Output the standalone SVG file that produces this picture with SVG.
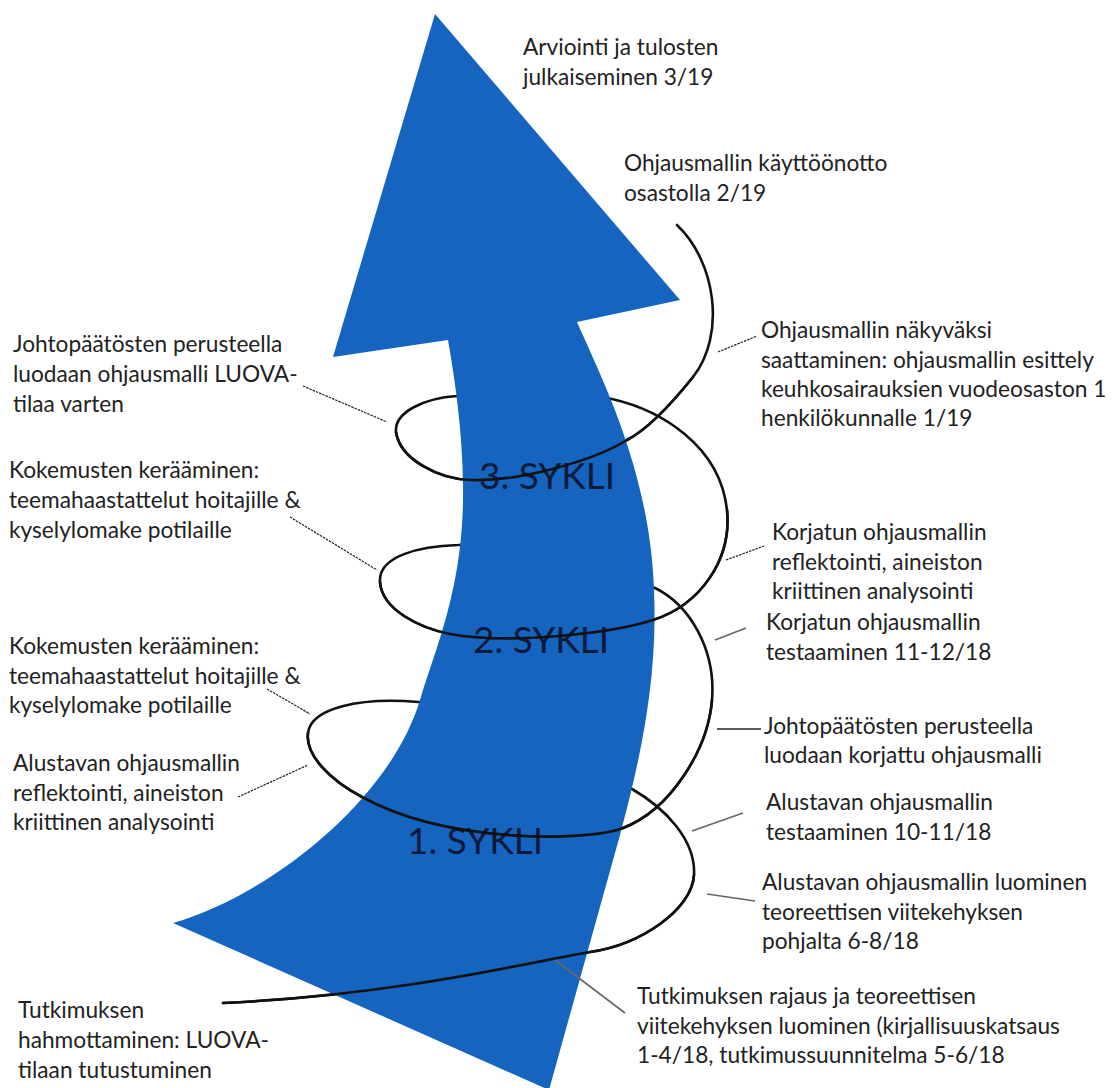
<svg xmlns="http://www.w3.org/2000/svg" width="1118" height="1088" viewBox="0 0 1118 1088">
<style>
.t{font-family:Lato,"Open Sans","Liberation Sans",sans-serif;font-size:22.7px;fill:#222}
.big{font-family:Lato,"Open Sans","Liberation Sans",sans-serif;font-size:37px;fill:#0b1a3a}
.sp{fill:none;stroke:#111;stroke-width:2.6;stroke-linecap:round}
.ld{fill:none;stroke:#222;stroke-width:1.2;stroke-dasharray:2.5 1}
.lg{fill:none;stroke:#666;stroke-width:1.6}
.lk{fill:none;stroke:#222;stroke-width:1.6}
</style>
<rect width="1118" height="1088" fill="#fff"/>
<g id="connectors">
<path id="spiral-back" class="sp" d="M 677 225 C 716 262 726 335 693 377 C 673 402 650 428 627 440 C 595 460 520 482 470 480 C 440 479 400 460 396 432 C 394 412 425 398 457 396 C 520 388 570 390 612 399 C 660 410 720 445 727 510 C 732 560 700 605 653 620 C 613 633 510 645 450 634 C 420 628 382 610 380 582 C 378 556 420 546 458 545 C 540 540 610 570 655 588 C 690 605 716 650 712 700 C 708 750 670 810 623 828 C 590 841 450 845 362 797 C 330 780 305 755 308 733 C 311 708 360 697 418 702 C 500 700 590 770 632 789 C 665 808 696 840 694 875 C 692 910 640 945 590 952 C 540 960 400 995 223 1003"/>
</g>
<g id="arrow">
<path d="M 435 14 L 680 300 L 577 322 C 600 375 650 470 654 590 C 658 680 640 760 620 835 L 549 1090 L 173 923 C 270 895 390 800 420 700 C 435 650 462 590 463 500 C 464 440 455 380 448 340 L 333 357 Z" fill="#1565c0"/>
<text class="big" x="479" y="489">3. SYKLI</text>
<text class="big" x="473" y="653">2. SYKLI</text>
<text class="big" x="407" y="854">1. SYKLI</text>
</g>
<g id="spiral-front">
<path class="sp" d="M 693 377 C 673 402 650 428 627 440 C 595 460 520 482 470 480 C 440 479 400 460 396 432"/>
<path class="sp" d="M 727 510 C 732 560 700 605 653 620 C 613 633 510 645 450 634 C 420 628 382 610 380 582"/>
<path class="sp" d="M 712 700 C 708 750 670 810 623 828 C 590 841 450 845 362 797 C 330 780 305 755 308 733"/>
<path class="sp" d="M 694 875 C 692 910 640 945 590 952 C 540 960 400 995 223 1003"/>
</g>
<g id="leaders">
<line class="ld" x1="303" y1="386" x2="387" y2="422"/>
<line class="ld" x1="290" y1="517" x2="377" y2="570"/>
<line class="ld" x1="267" y1="689" x2="310" y2="714"/>
<line class="ld" x1="238" y1="797" x2="308" y2="765"/>
<line class="ld" x1="718" y1="352" x2="757" y2="336"/>
<line class="ld" x1="726" y1="560" x2="764" y2="546"/>
<line class="lg" x1="715" y1="640" x2="746" y2="628"/>
<line class="lk" x1="717" y1="729" x2="761" y2="729"/>
<line class="lg" x1="692" y1="831" x2="743" y2="813"/>
<line class="lg" x1="707" y1="894" x2="755" y2="901"/>
<line class="lg" x1="555" y1="960" x2="625" y2="1013"/>
</g>
<g id="n-arviointi"><text class="t" x="523" y="55">Arviointi ja tulosten</text><text class="t" x="523" y="85">julkaiseminen 3/19</text></g>
<g id="n-kayttoonotto"><text class="t" x="624" y="171">Ohjausmallin käyttöönotto</text><text class="t" x="624" y="201">osastolla 2/19</text></g>
<g id="n-nakyvaksi"><text class="t" x="761" y="338">Ohjausmallin näkyväksi</text><text class="t" x="761" y="368">saattaminen: ohjausmallin esittely</text><text class="t" x="761" y="397">keuhkosairauksien vuodeosaston 1</text><text class="t" x="761" y="426">henkilökunnalle 1/19</text></g>
<g id="n-korjatun-refl"><text class="t" x="772" y="540">Korjatun ohjausmallin</text><text class="t" x="772" y="570">reflektointi, aineiston</text><text class="t" x="772" y="599">kriittinen analysointi</text></g>
<g id="n-korjatun-test"><text class="t" x="766" y="630">Korjatun ohjausmallin</text><text class="t" x="766" y="660">testaaminen 11-12/18</text></g>
<g id="n-korjattu"><text class="t" x="764" y="734">Johtopäätösten perusteella</text><text class="t" x="764" y="763">luodaan korjattu ohjausmalli</text></g>
<g id="n-alust-test"><text class="t" x="766" y="810">Alustavan ohjausmallin</text><text class="t" x="766" y="840">testaaminen 10-11/18</text></g>
<g id="n-alust-luom"><text class="t" x="762" y="890">Alustavan ohjausmallin luominen</text><text class="t" x="762" y="920">teoreettisen viitekehyksen</text><text class="t" x="762" y="949">pohjalta 6-8/18</text></g>
<g id="n-rajaus"><text class="t" x="637" y="1004">Tutkimuksen rajaus ja teoreettisen</text><text class="t" x="637" y="1034">viitekehyksen luominen (kirjallisuuskatsaus</text><text class="t" x="637" y="1063">1-4/18, tutkimussuunnitelma 5-6/18</text></g>
<g id="n-luova"><text class="t" x="13" y="352">Johtopäätösten perusteella</text><text class="t" x="13" y="382">luodaan ohjausmalli LUOVA-</text><text class="t" x="13" y="412">tilaa varten</text></g>
<g id="n-kokemus2"><text class="t" x="9" y="478">Kokemusten kerääminen:</text><text class="t" x="9" y="508">teemahaastattelut hoitajille &amp;</text><text class="t" x="9" y="538">kyselylomake potilaille</text></g>
<g id="n-kokemus1"><text class="t" x="9" y="654">Kokemusten kerääminen:</text><text class="t" x="9" y="684">teemahaastattelut hoitajille &amp;</text><text class="t" x="9" y="713">kyselylomake potilaille</text></g>
<g id="n-alust-refl"><text class="t" x="13" y="771">Alustavan ohjausmallin</text><text class="t" x="13" y="801">reflektointi, aineiston</text><text class="t" x="13" y="830">kriittinen analysointi</text></g>
<g id="n-hahmottaminen"><text class="t" x="18" y="1018">Tutkimuksen</text><text class="t" x="18" y="1048">hahmottaminen: LUOVA-</text><text class="t" x="18" y="1078">tilaan tutustuminen</text></g>
</svg>
